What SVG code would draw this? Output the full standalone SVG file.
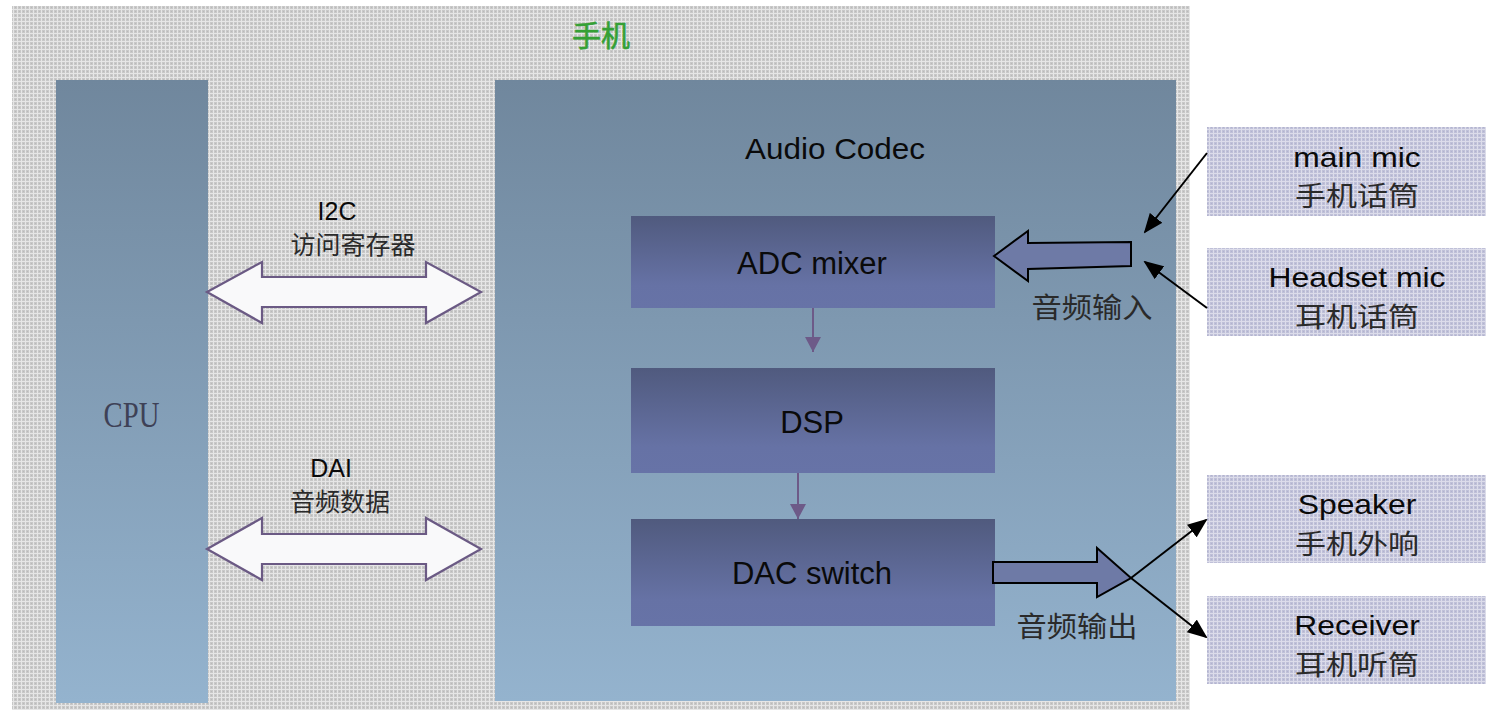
<svg xmlns="http://www.w3.org/2000/svg" width="1486" height="710" viewBox="0 0 1486 710">
  <defs>
    <!-- fine dotted textures -->
    <pattern id="texGray" width="4" height="4" patternUnits="userSpaceOnUse">
      <rect width="4" height="4" fill="#c8c8c8"/>
      <rect x="0" y="1" width="4" height="1" fill="#e6e6e6"/>
      <rect x="1" y="0" width="1" height="4" fill="#e6e6e6"/>
      <rect x="3" y="3" width="1" height="1" fill="#bababa"/>
    </pattern>
    <pattern id="texLav" width="4" height="4" patternUnits="userSpaceOnUse">
      <rect width="4" height="4" fill="#bfc0d8"/>
      <rect x="0" y="1" width="4" height="1" fill="#dcdcea"/>
      <rect x="1" y="0" width="1" height="4" fill="#dcdcea"/>
      <rect x="3" y="3" width="1" height="1" fill="#b2b3cf"/>
    </pattern>
    <linearGradient id="gBlue" x1="0" y1="0" x2="0" y2="1">
      <stop offset="0" stop-color="#70879d"/>
      <stop offset="1" stop-color="#94b3ce"/>
    </linearGradient>
    <linearGradient id="gBlock" x1="0" y1="0" x2="0" y2="1">
      <stop offset="0" stop-color="#505a7e"/>
      <stop offset="0.75" stop-color="#6672a5"/>
      <stop offset="1" stop-color="#6773a7"/>
    </linearGradient>
    <marker id="headPurple" viewBox="0 0 15 16" refX="15" refY="8" markerWidth="15" markerHeight="16" markerUnits="userSpaceOnUse" orient="auto">
      <path d="M0,0 L15,8 L0,16 Z" fill="#6d5a88"/>
    </marker>
    <marker id="headBlack" viewBox="0 0 20 16" refX="18" refY="8" markerWidth="20" markerHeight="16" markerUnits="userSpaceOnUse" orient="auto">
      <path d="M0,0 L20,8 L0,16 Z" fill="#000"/>
    </marker>
  </defs>
  <style>
    .en { font-family: "Liberation Sans", Arial, sans-serif; fill: #0a0a0a; }
    .cn { font-family: "Noto Sans CJK SC", sans-serif; fill: #2a2a2a; }
    .block { fill: url(#gBlock); }
    .dbl { fill: #f9f9fa; stroke: #6b5a84; stroke-width: 2.2; stroke-linejoin: miter; }
    .fat { fill: #6e7aa6; stroke: #000; stroke-width: 2; }
    .wire { stroke: #000; stroke-width: 2; fill: none; marker-end: url(#headBlack); }
    .flow { stroke: #6d5a88; stroke-width: 2; fill: none; marker-end: url(#headPurple); }
    .dev { fill: url(#texLav); }
  </style>

  <rect width="1486" height="710" fill="#ffffff"/>

  <!-- phone enclosure -->
  <g id="phone">
    <rect x="12" y="6" width="1178" height="704" fill="url(#texGray)"/>
    <text x="601" y="47" font-family="Noto Sans CJK SC, sans-serif" font-size="29" fill="#35a035" stroke="#35a035" stroke-width="0.6" text-anchor="middle">手机</text>
  </g>

  <g id="cpu">
    <rect x="56" y="80" width="152" height="623" fill="url(#gBlue)"/>
    <text transform="translate(131.5,427) scale(0.82,1)" font-family="Liberation Serif, serif" font-size="35" fill="#3e4156" text-anchor="middle">CPU</text>
  </g>

  <g id="codec">
    <rect x="495" y="80" width="681" height="621" fill="url(#gBlue)"/>
    <text x="835" y="159" class="en" font-size="30" text-anchor="middle" textLength="180" lengthAdjust="spacingAndGlyphs">Audio Codec</text>
  </g>

  <g id="adc">
    <rect class="block" x="631" y="216" width="364" height="92"/>
    <text x="812" y="274" class="en" font-size="31" text-anchor="middle">ADC mixer</text>
  </g>
  <g id="dsp">
    <rect class="block" x="631" y="368" width="364" height="105"/>
    <text x="812" y="433" class="en" font-size="31" text-anchor="middle">DSP</text>
  </g>
  <g id="dac">
    <rect class="block" x="631" y="519" width="364" height="107"/>
    <text x="812" y="584" class="en" font-size="31" text-anchor="middle">DAC switch</text>
  </g>

  <g id="main-mic">
    <rect class="dev" x="1207" y="127" width="279" height="89"/>
    <text transform="translate(1357,167) scale(1.18,1)" class="en" font-size="27" text-anchor="middle">main mic</text>
    <text transform="translate(1357,206) scale(1.15,1)" class="cn" font-size="27" text-anchor="middle">手机话筒</text>
  </g>
  <g id="headset-mic">
    <rect class="dev" x="1207" y="248" width="279" height="88"/>
    <text transform="translate(1357,287) scale(1.18,1)" class="en" font-size="27" text-anchor="middle">Headset mic</text>
    <text transform="translate(1357,327) scale(1.15,1)" class="cn" font-size="27" text-anchor="middle">耳机话筒</text>
  </g>
  <g id="speaker">
    <rect class="dev" x="1207" y="475" width="279" height="88"/>
    <text transform="translate(1357,514) scale(1.18,1)" class="en" font-size="27" text-anchor="middle">Speaker</text>
    <text transform="translate(1357,554) scale(1.15,1)" class="cn" font-size="27" text-anchor="middle">手机外响</text>
  </g>
  <g id="receiver">
    <rect class="dev" x="1207" y="596" width="279" height="88"/>
    <text transform="translate(1357,635) scale(1.18,1)" class="en" font-size="27" text-anchor="middle">Receiver</text>
    <text transform="translate(1357,675) scale(1.15,1)" class="cn" font-size="27" text-anchor="middle">耳机听筒</text>
  </g>

  <!-- links and signal paths -->
  <g id="connectors">
    <!-- I2C register bus -->
    <path class="dbl" d="M207,292 L262,262 L262,277 L426,277 L426,262 L481,292 L426,323 L426,307 L262,307 L262,323 Z"/>
    <text x="337" y="220" class="en" font-size="25" text-anchor="middle">I2C</text>
    <text x="353" y="254" class="cn" font-size="25" text-anchor="middle">访问寄存器</text>

    <!-- DAI audio data bus -->
    <path class="dbl" d="M207,549 L262,518 L262,534 L426,534 L426,518 L481,549 L426,580 L426,564 L262,564 L262,580 Z"/>
    <text x="331" y="477" class="en" font-size="25" text-anchor="middle">DAI</text>
    <text x="340" y="511" class="cn" font-size="25" text-anchor="middle">音频数据</text>

    <!-- internal pipeline -->
    <path class="flow" d="M813,308 L813,352"/>
    <path class="flow" d="M798,473 L798,519"/>

    <!-- audio in -->
    <path class="fat" d="M994,256 L1028,231 L1028,243 L1131,242 L1131,266 L1028,269 L1028,281 Z"/>
    <text transform="translate(1092,318) scale(1.08,1)" class="cn" font-size="28" text-anchor="middle">音频输入</text>
    <path class="wire" d="M1207,153 L1145,232"/>
    <path class="wire" d="M1207,308 L1145,262"/>

    <!-- audio out -->
    <path class="fat" d="M993,562 L1097,562 L1097,548 L1131,578 L1097,597 L1097,583 L993,583 Z"/>
    <text transform="translate(1077,637) scale(1.08,1)" class="cn" font-size="28" text-anchor="middle">音频输出</text>
    <path class="wire" d="M1131,578 L1206,520"/>
    <path class="wire" d="M1131,578 L1206,637"/>
  </g>
</svg>
